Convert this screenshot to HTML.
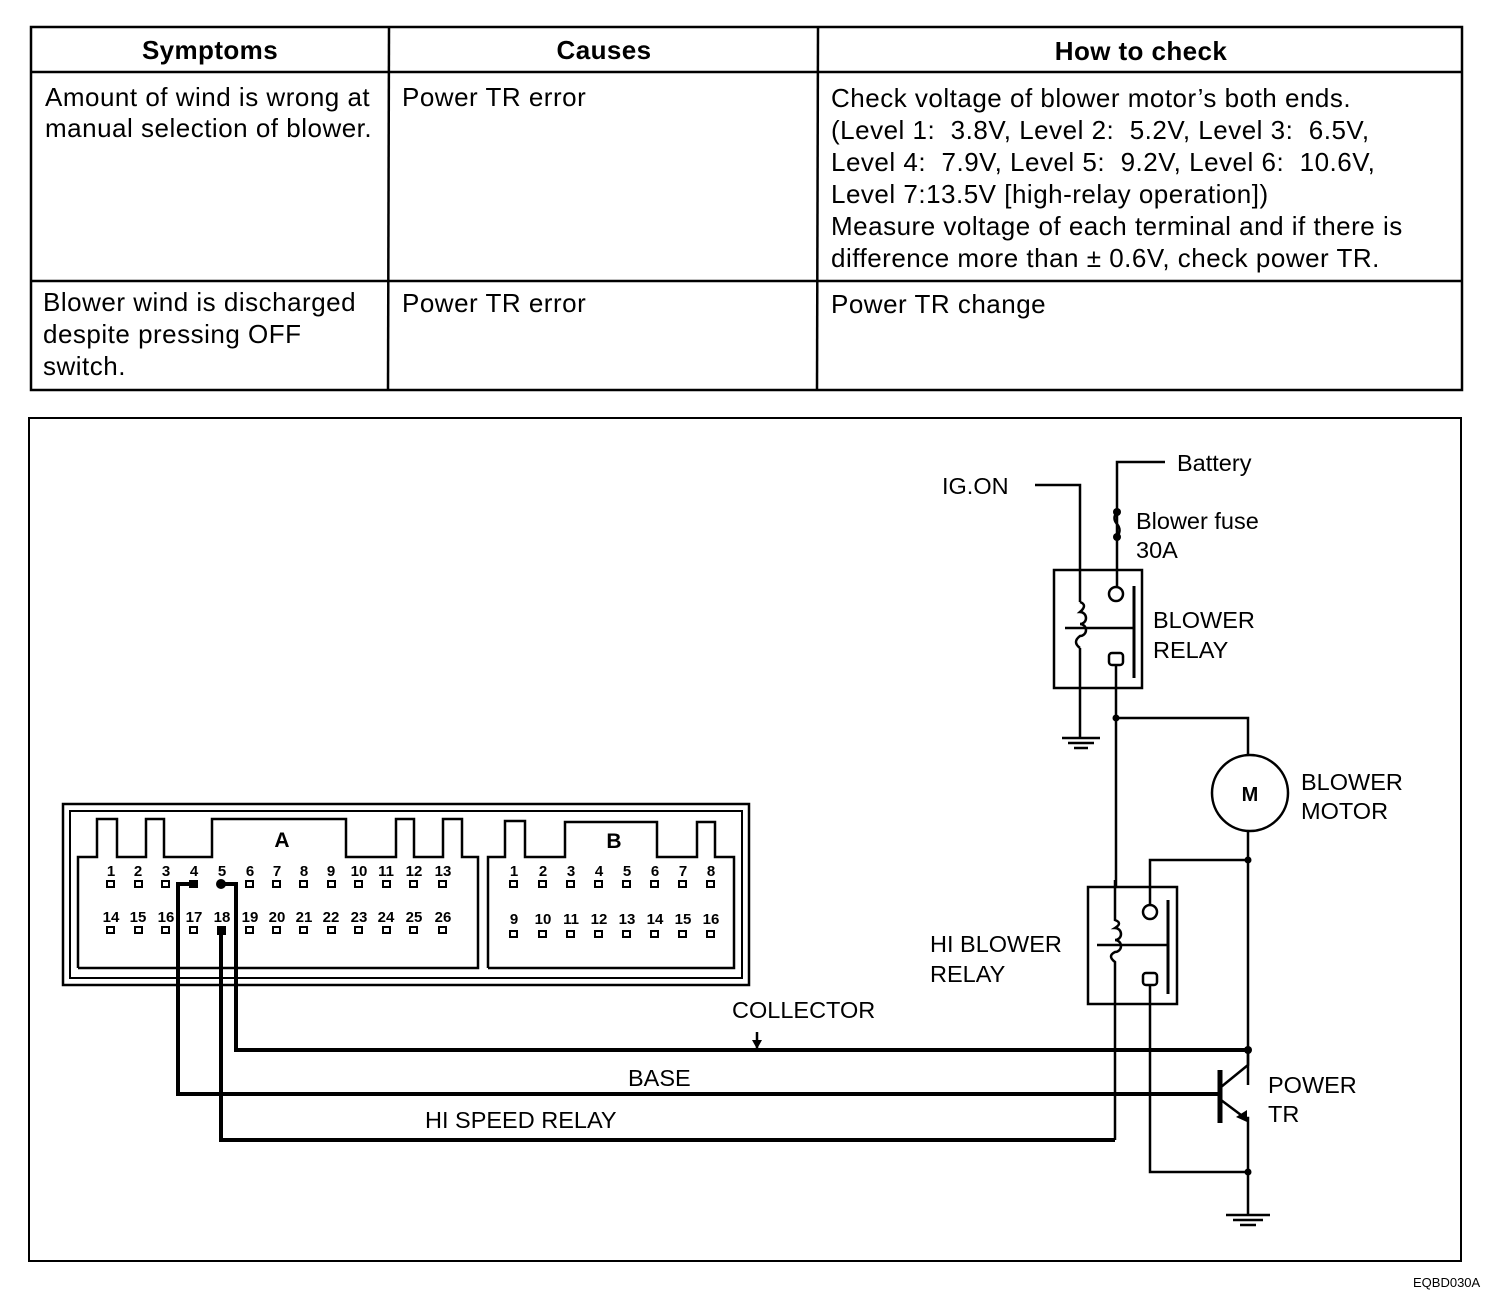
<!DOCTYPE html>
<html><head><meta charset="utf-8"><style>
html,body{margin:0;padding:0;background:#fff;}
svg{display:block;}
text{font-family:"Liberation Sans",Arial,sans-serif;fill:#000;}
.t{font-size:26px;letter-spacing:0.5px;}
.h{font-size:26px;font-weight:bold;letter-spacing:0.4px;}
.l{font-size:23.5px;}
.p{font-size:15px;font-weight:bold;}
</style></head><body>
<svg width="1504" height="1304" viewBox="0 0 1504 1304" xmlns="http://www.w3.org/2000/svg">
<g fill="none" stroke="#000" stroke-width="2.5">
<rect x="31" y="27" width="1431" height="363"/>
<line x1="31" y1="72" x2="1462" y2="72"/>
<line x1="31" y1="281" x2="1462" y2="281"/>
<line x1="389" y1="27" x2="388" y2="390"/>
<line x1="818" y1="27" x2="817" y2="390"/>
<rect x="29" y="418" width="1432" height="843" stroke-width="2"/>
</g>
<text class="h" x="210" y="59" text-anchor="middle">Symptoms</text>
<text class="h" x="604" y="59" text-anchor="middle">Causes</text>
<text class="h" x="1141" y="60" text-anchor="middle">How to check</text>
<text class="t" x="45" y="106">Amount of wind is wrong at</text>
<text class="t" x="45" y="137">manual selection of blower.</text>
<text class="t" x="402" y="106">Power TR error</text>
<text class="t" x="831" y="107">Check voltage of blower motor’s both ends.</text>
<text class="t" x="831" y="139" xml:space="preserve">(Level 1:  3.8V, Level 2:  5.2V, Level 3:  6.5V,</text>
<text class="t" x="831" y="171" xml:space="preserve">Level 4:  7.9V, Level 5:  9.2V, Level 6:  10.6V,</text>
<text class="t" x="831" y="203">Level 7:13.5V [high-relay operation])</text>
<text class="t" x="831" y="235">Measure voltage of each terminal and if there is</text>
<text class="t" x="831" y="267">difference more than ± 0.6V, check power TR.</text>
<text class="t" x="43" y="311">Blower wind is discharged</text>
<text class="t" x="43" y="343">despite pressing OFF</text>
<text class="t" x="43" y="375">switch.</text>
<text class="t" x="402" y="312">Power TR error</text>
<text class="t" x="831" y="313">Power TR change</text>

<g fill="none" stroke="#000" stroke-width="2.5">
<rect x="63" y="804" width="686" height="181"/>
<rect x="70" y="811" width="672" height="167" stroke-width="2"/>
<polyline points="78,968 78,857 97,857 97,819 117,819 117,857 146,857 146,819 164,819 164,857 212,857 212,819 346,819 346,857 396,857 396,819 414,819 414,857 443,857 443,819 462,819 462,857 478,857 478,968 78,968"/>
<polyline points="488,968 488,857 505,857 505,821 525,821 525,857 565,857 565,822 657,822 657,857 697,857 697,822 715,822 715,857 734,857 734,968 488,968"/>
</g>
<text x="282" y="847" style="font-size:21px;font-weight:bold" text-anchor="middle">A</text>
<text x="614" y="848" style="font-size:21px;font-weight:bold" text-anchor="middle">B</text>
<g text-anchor="middle">
<text class="p" x="111" y="876">1</text><text class="p" x="138" y="876">2</text><text class="p" x="166" y="876">3</text><text class="p" x="194" y="876">4</text><text class="p" x="222" y="876">5</text><text class="p" x="250" y="876">6</text><text class="p" x="277" y="876">7</text><text class="p" x="304" y="876">8</text><text class="p" x="331" y="876">9</text><text class="p" x="359" y="876">10</text><text class="p" x="386" y="876">11</text><text class="p" x="414" y="876">12</text><text class="p" x="443" y="876">13</text>
<text class="p" x="111" y="922">14</text><text class="p" x="138" y="922">15</text><text class="p" x="166" y="922">16</text><text class="p" x="194" y="922">17</text><text class="p" x="222" y="922">18</text><text class="p" x="250" y="922">19</text><text class="p" x="277" y="922">20</text><text class="p" x="304" y="922">21</text><text class="p" x="331" y="922">22</text><text class="p" x="359" y="922">23</text><text class="p" x="386" y="922">24</text><text class="p" x="414" y="922">25</text><text class="p" x="443" y="922">26</text>
<text class="p" x="514" y="876">1</text><text class="p" x="543" y="876">2</text><text class="p" x="571" y="876">3</text><text class="p" x="599" y="876">4</text><text class="p" x="627" y="876">5</text><text class="p" x="655" y="876">6</text><text class="p" x="683" y="876">7</text><text class="p" x="711" y="876">8</text>
<text class="p" x="514" y="924">9</text><text class="p" x="543" y="924">10</text><text class="p" x="571" y="924">11</text><text class="p" x="599" y="924">12</text><text class="p" x="627" y="924">13</text><text class="p" x="655" y="924">14</text><text class="p" x="683" y="924">15</text><text class="p" x="711" y="924">16</text>
</g>
<g fill="none" stroke="#000" stroke-width="2">
<rect x="107" y="881" width="7" height="6"/><rect x="135" y="881" width="7" height="6"/><rect x="162" y="881" width="7" height="6"/><rect x="246" y="881" width="7" height="6"/><rect x="273" y="881" width="7" height="6"/><rect x="300" y="881" width="7" height="6"/><rect x="328" y="881" width="7" height="6"/><rect x="355" y="881" width="7" height="6"/><rect x="383" y="881" width="7" height="6"/><rect x="410" y="881" width="7" height="6"/><rect x="439" y="881" width="7" height="6"/>
<rect x="107" y="927" width="7" height="6"/><rect x="135" y="927" width="7" height="6"/><rect x="162" y="927" width="7" height="6"/><rect x="190" y="927" width="7" height="6"/><rect x="246" y="927" width="7" height="6"/><rect x="273" y="927" width="7" height="6"/><rect x="300" y="927" width="7" height="6"/><rect x="328" y="927" width="7" height="6"/><rect x="355" y="927" width="7" height="6"/><rect x="383" y="927" width="7" height="6"/><rect x="410" y="927" width="7" height="6"/><rect x="439" y="927" width="7" height="6"/>
<rect x="510" y="881" width="7" height="6"/><rect x="539" y="881" width="7" height="6"/><rect x="567" y="881" width="7" height="6"/><rect x="595" y="881" width="7" height="6"/><rect x="623" y="881" width="7" height="6"/><rect x="651" y="881" width="7" height="6"/><rect x="679" y="881" width="7" height="6"/><rect x="707" y="881" width="7" height="6"/>
<rect x="510" y="931" width="7" height="6"/><rect x="539" y="931" width="7" height="6"/><rect x="567" y="931" width="7" height="6"/><rect x="595" y="931" width="7" height="6"/><rect x="623" y="931" width="7" height="6"/><rect x="651" y="931" width="7" height="6"/><rect x="679" y="931" width="7" height="6"/><rect x="707" y="931" width="7" height="6"/>
</g>
<rect x="189" y="880" width="9" height="8"/><circle cx="221" cy="884" r="5"/><rect x="217" y="926" width="9" height="9"/>

<g fill="none" stroke="#000" stroke-width="4">
<polyline points="192,884 178,884 178,1094 1117,1094"/>
<polyline points="221,884 236,884 236,1050 1248,1050"/>
<polyline points="221,930 221,1140 1115,1140"/>
</g>
<g fill="none" stroke="#000" stroke-width="2.5">
<polyline points="1035,485 1080,485 1080,602"/>
<path d="M1080,602 q8,3 0,10 a6,6 0 1 1 0,12 a6,6 0 1 1 0,12 q-8,6 0,12"/>
<polyline points="1080,648 1080,738"/>
<line x1="1062" y1="738" x2="1100" y2="738"/><line x1="1068" y1="743" x2="1094" y2="743"/><line x1="1074" y1="748" x2="1088" y2="748"/>
<rect x="1054" y="570" width="88" height="118"/>
<polyline points="1165,462 1117,462 1117,586"/>
<circle cx="1116" cy="594" r="7"/>
<rect x="1109" y="653" width="14" height="12" rx="3"/>
<line x1="1134" y1="586" x2="1134" y2="678" stroke-width="3"/>
<line x1="1065" y1="628" x2="1134" y2="628"/>
<polyline points="1116,665 1116,886"/>
<polyline points="1116,718 1248,718 1248,755"/>
<circle cx="1250" cy="793" r="38"/>
<line x1="1248" y1="831" x2="1248" y2="1085"/>
<rect x="1088" y="887" width="89" height="117"/>
<path d="M1115,880 L1115,920 q8,3 0,8 a6,6 0 1 1 0,12 a6,6 0 1 1 0,12 q-8,4 0,10 L1115,1140"/>
<line x1="1097" y1="945" x2="1168" y2="945"/>
<line x1="1168" y1="900" x2="1168" y2="994" stroke-width="3"/>
<polyline points="1150,904 1150,860 1248,860"/>
<circle cx="1150" cy="912" r="7"/>
<rect x="1143" y="973" width="14" height="12" rx="3"/>
<polyline points="1150,985 1150,1172 1248,1172"/>
<line x1="1218" y1="1094" x2="1117" y2="1094" stroke-width="4"/>
<line x1="1220" y1="1070" x2="1220" y2="1123" stroke-width="5"/>
<polyline points="1221,1087 1248,1065 1248,1050"/>
<polyline points="1221,1100 1245,1118 1248,1118 1248,1215"/>
<line x1="1226" y1="1215" x2="1270" y2="1215"/><line x1="1233" y1="1220" x2="1263" y2="1220"/><line x1="1240" y1="1225" x2="1256" y2="1225"/>
<polyline points="757,1032 757,1048"/>
</g>
<polygon points="1247,1122 1236,1117 1247,1110" fill="#000"/>
<polygon points="752,1040 762,1040 757,1049" fill="#000"/>
<circle cx="1117" cy="512" r="4"/><circle cx="1117" cy="537" r="4"/>
<path d="M1117,512 q-5,6 0,12 q5,6 0,13" fill="none" stroke="#000" stroke-width="2.5"/>
<circle cx="1116" cy="718" r="3.5"/><circle cx="1248" cy="860" r="3.5"/><circle cx="1248" cy="1050" r="4"/><circle cx="1248" cy="1172" r="3.5"/>

<text class="l" x="1177" y="471">Battery</text>
<text class="l" x="942" y="494">IG.ON</text>
<text class="l" x="1136" y="529">Blower fuse</text>
<text class="l" x="1136" y="558">30A</text>
<text class="l" x="1153" y="628">BLOWER</text>
<text class="l" x="1153" y="658">RELAY</text>
<text x="1250" y="801" style="font-size:20px;font-weight:bold" text-anchor="middle">M</text>
<text class="l" x="1301" y="790">BLOWER</text>
<text class="l" x="1301" y="819">MOTOR</text>
<text class="l" x="930" y="952">HI BLOWER</text>
<text class="l" x="930" y="982">RELAY</text>
<text class="l" x="1268" y="1093">POWER</text>
<text class="l" x="1268" y="1122">TR</text>
<text class="l" x="732" y="1018">COLLECTOR</text>
<text class="l" x="628" y="1086">BASE</text>
<text class="l" x="425" y="1128">HI SPEED RELAY</text>
<text x="1413" y="1287" style="font-size:13px">EQBD030A</text>
</svg>
</body></html>
